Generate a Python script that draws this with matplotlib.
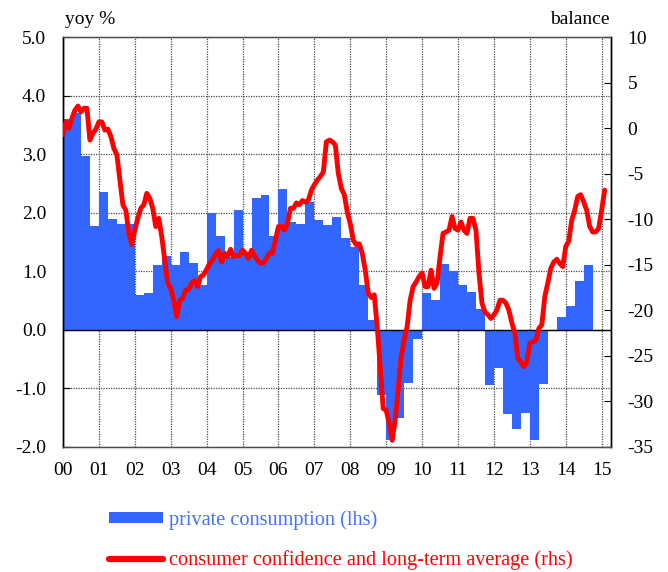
import matplotlib
matplotlib.use("Agg")
import matplotlib.pyplot as plt
import numpy as np
from matplotlib.patches import Patch
from matplotlib.lines import Line2D

plt.rcParams['font.family'] = ['Liberation Serif', 'DejaVu Serif']
plt.rcParams['axes.unicode_minus'] = False

# Quarterly private consumption, yoy % (2000Q1 .. 2014Q3)
consumption = [
    3.60, 3.70, 2.97, 1.77,   # 2000
    2.35, 1.90, 1.81, 1.80,   # 2001
    0.59, 0.62, 1.11, 1.26,   # 2002
    1.11, 1.33, 1.14, 0.76,   # 2003
    2.00, 1.61, 1.25, 2.05,   # 2004
    1.31, 2.26, 2.30, 1.60,   # 2005
    2.41, 1.85, 1.81, 2.19,   # 2006
    1.87, 1.79, 1.93, 1.56,   # 2007
    1.41, 0.76, 0.16, -1.12,  # 2008
    -1.89, -1.51, -0.91, -0.16,  # 2009
    0.63, 0.50, 1.13, 1.01,   # 2010
    0.76, 0.65, 0.36, -0.94,  # 2011
    -0.66, -1.44, -1.69, -1.42,  # 2012
    -1.88, -0.92, -0.02, 0.22,   # 2013
    0.41, 0.84, 1.10,            # 2014
]

# Monthly consumer confidence, balance (Jan 2000 .. Feb 2015)
confidence = [
    -0.7, 0.7, 0.0, 1.1, 2.0, 2.45, 1.8, 2.2, 2.2, -1.3, -0.55, -0.1,          # 2000
    0.7, 0.7, -0.2, -0.1, -0.9, -2.2, -2.9, -5.7, -8.4, -9.0, -11.5, -12.8,    # 2001
    -11.2, -9.9, -8.8, -8.4, -7.15, -7.7, -8.8, -10.8, -9.9, -11.9, -14.5, -17.0,  # 2002
    -17.6, -18.9, -20.7, -18.9, -18.7, -17.8, -17.7, -17.0, -16.75, -17.4, -16.3, -16.1,  # 2003
    -15.5, -14.85, -14.5, -13.8, -13.45, -14.7, -13.75, -14.1, -13.3, -14.1, -14.0, -14.0,  # 2004
    -13.4, -13.75, -14.3, -13.4, -14.0, -14.5, -14.85, -14.8, -14.3, -13.7, -13.75, -12.3,  # 2005
    -10.8, -10.75, -11.2, -10.45, -8.8, -8.8, -8.2, -8.4, -7.95, -8.1, -7.9, -6.8,  # 2006
    -6.2, -5.7, -5.3, -4.8, -1.5, -1.3, -1.47, -1.84, -4.95, -6.6, -7.3, -9.2,   # 2007
    -10.5, -12.3, -12.8, -12.7, -13.75, -15.6, -18.1, -18.6, -18.3, -21.8, -26.2, -30.8,  # 2008
    -31.0, -32.4, -34.3, -32.1, -28.8, -25.1, -23.3, -21.8, -18.9, -17.4, -16.9, -16.3,  # 2009
    -15.9, -17.4, -17.4, -15.6, -17.6, -17.0, -14.1, -11.55, -11.4, -11.2, -9.7, -11.0,  # 2010
    -11.2, -10.3, -11.2, -11.55, -9.9, -9.9, -11.2, -15.9, -19.2, -20.2, -20.5, -20.9,  # 2011
    -20.5, -20.0, -18.9, -18.9, -19.2, -20.0, -21.4, -22.5, -25.3, -25.7, -26.2, -25.7,  # 2012
    -23.6, -23.5, -23.3, -22.0, -21.6, -18.5, -17.0, -15.4, -14.7, -14.4, -14.85, -15.2,  # 2013
    -13.0, -12.4, -10.1, -9.0, -7.5, -7.3, -8.1, -9.0, -10.8, -11.4, -11.4, -11.0,  # 2014
    -9.0, -6.8,  # 2015
]

years = list(range(2000, 2016))
year_labels = ['00', '01', '02', '03', '04', '05', '06', '07', '08', '09',
               '10', '11', '12', '13', '14', '15']
left_ticks = [5.0, 4.0, 3.0, 2.0, 1.0, 0.0, -1.0, -2.0]
right_ticks = [10, 5, 0, -5, -10, -15, -20, -25, -30, -35]

BLUE = '#3366FF'
RED = '#FF0000'
GRID = '#4d4d4d'
FS = 14
LFS = 14.6

q_x = 2000 + np.arange(len(consumption)) * 0.25
m_x = 2000 + np.arange(len(confidence)) / 12.0

fig = plt.figure(figsize=(6.68, 5.72), dpi=100)
ax = fig.add_axes([63 / 668, 1 - 446.7 / 572, (611 - 63) / 668, (446.7 - 37.3) / 572])
ax2 = ax.twinx()

ax.bar(q_x, consumption, width=0.25, align='edge', color=BLUE, linewidth=0, zorder=2)
ax.axhline(0, color='black', linewidth=1.0, zorder=3)

ax2.plot(m_x, confidence, color=RED, linewidth=3.5, solid_capstyle='round',
         solid_joinstyle='round', zorder=4)

ax.set_xlim(2000, 2015.26)
ax.set_ylim(-2.0, 5.0)
ax2.set_ylim(-35, 10)

ax.set_xticks(years)
ax.set_xticklabels(year_labels, fontsize=FS)
ax.set_yticks(left_ticks)
ax.set_yticklabels([f'{v:.1f}' for v in left_ticks], fontsize=FS)
ax2.set_yticks(right_ticks)
ax2.set_yticklabels([str(v) for v in right_ticks], fontsize=FS)

ax.grid(True, which='major', axis='both', linestyle=(0, (1, 1)), color=GRID,
        linewidth=0.9, zorder=1)
ax.set_axisbelow(True)

ax.tick_params(axis='y', direction='in', length=5, width=0.8, pad=12)
ax.tick_params(axis='x', direction='in', length=0, pad=11)
ax2.tick_params(axis='y', direction='in', length=5, width=0.8, pad=12)

for a in (ax, ax2):
    for name, s in a.spines.items():
        if name in ('top', 'bottom'):
            s.set_color(GRID)
            s.set_linestyle((0, (1, 1)))
            s.set_linewidth(0.9)
        else:
            s.set_color('black')
            s.set_linewidth(1.0)

ax.set_zorder(ax2.get_zorder() - 1)
ax2.patch.set_visible(False)
ax.patch.set_visible(True)

fig.text(65 / 668, 1 - 20 / 572, 'yoy %', fontsize=FS, ha='left', va='center')
fig.text(610 / 668, 1 - 20 / 572, 'balance', fontsize=FS, ha='right', va='center')

handles = [Patch(facecolor=BLUE, edgecolor='none'),
           Line2D([0], [0], color=RED, linewidth=4.5, solid_capstyle='round')]
labels = ['private consumption (lhs)', 'consumer confidence and long-term average (rhs)']
leg = fig.legend(handles, labels, loc='upper left',
                 bbox_to_anchor=(109 / 668, 1 - 510 / 572), frameon=False,
                 fontsize=LFS, handlelength=2.65, handleheight=0.5, handletextpad=0.3,
                 labelspacing=1.02, borderaxespad=0, borderpad=0)
for txt, c in zip(leg.get_texts(), ['#4470FF', RED]):
    txt.set_color(c)

fig.savefig('out.png', dpi=100)
